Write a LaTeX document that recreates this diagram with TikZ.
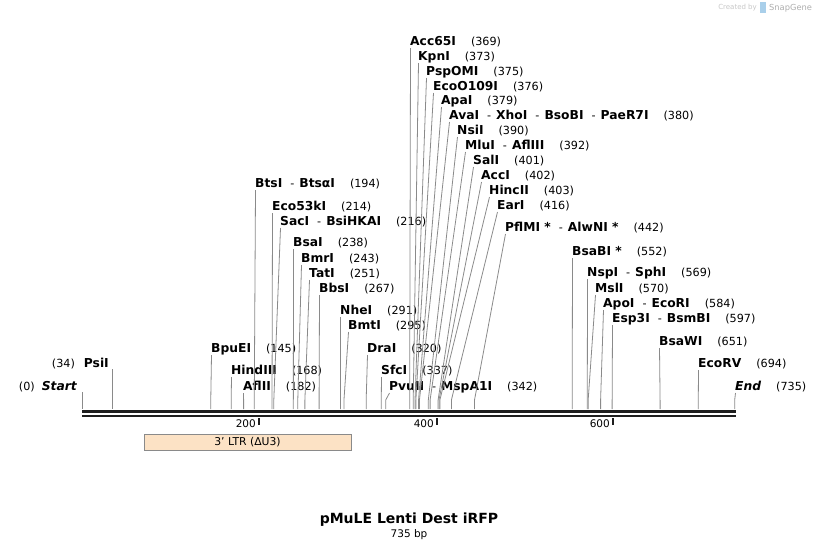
\documentclass[tikz,border=0pt]{standalone}
\usepackage{fontspec}
\setmainfont{DejaVu Sans}
\usetikzlibrary{calc}
\definecolor{leadgray}{HTML}{8A8A8A}
\definecolor{ltrfill}{HTML}{FCE2C5}
\definecolor{bardark}{HTML}{1E1E1E}
\definecolor{logoblue}{HTML}{A9CFEA}
\def\bpx#1{82+0.888*#1}
\def\enz#1{{\fontsize{12.3}{14}\selectfont\bfseries #1}}
\def\bpat#1{\hspace{15pt}(#1)}
\def\orsep{\hspace{8pt}-\hspace{5pt}}
% label to the right of its leader line
\def\cutsite(#1)(#2,#3)(#4)#5{%
	\node[site label] (#1) at (#2,#3) {#5};
	\coordinate (#1 knee) at ({\bpx{#4}},400);
	\coordinate (#1 cut) at ({\bpx{#4}},409);
	\draw[leader] ([xshift=0.5pt,yshift=-6pt]#1.west) -- (#1 knee) -- (#1 cut);}
% label to the left of its leader line
\def\leftsite(#1)(#2,#3)(#4)#5{%
	\node[left label] (#1) at (#2,#3) {#5};
	\coordinate (#1 top) at ({\bpx{#4}},{#3+5});
	\coordinate (#1 cut) at ({\bpx{#4}},409);
	\draw[leader] (#1 top) -- (#1 cut);}
\tikzset{
	site label/.style={anchor=west, inner sep=0pt, font=\fontsize{11.2}{13}\selectfont},
	left label/.style={site label, anchor=east},
	leader/.style={draw=leadgray, line width=0.8pt},
	tick label/.style={anchor=east, inner sep=0pt, font=\fontsize{10.5}{12}\selectfont},
}
\begin{document}
\begin{tikzpicture}[x=1pt,y=-1pt]
		%%%%% START %%%%%
		\useasboundingbox (0,0) rectangle (818,550);
		
		% sequence bar
		\draw[bardark, line width=3pt] (82,411) -- (735.5,411);
		\draw[bardark, line width=2.6pt] (82,416) -- (735.5,416);
		\foreach \t/\tx in {200/259,400/437,600/613}{
			\draw[bardark, line width=1.6pt] (\tx,418) -- (\tx,425);
			\node[tick label] (tick\t) at ({\tx-3},424) {\t};
		}
		
		% 3' LTR feature
		\node[draw=leadgray, fill=ltrfill, line width=0.6pt, minimum width=207pt, minimum height=16pt,
			inner sep=0pt, font=\fontsize{10.8}{12}\selectfont] (ltr) at (247.5,442) {3' LTR (ΔU3)};
		
		% ends
		\leftsite(start)(77,387)(0){(0)\hspace{7pt}\enz{\itshape Start}}
		\leftsite(psii)(109,364)(34){(34)\hspace{9pt}\enz{PsiI}}
		\cutsite(endsite)(735,387)(735){\enz{\itshape End}\bpat{735}}
		
		% left cluster
		\cutsite(bpuei)(211,349)(145){\enz{BpuEI}\bpat{145}}
		\cutsite(hindiii)(231,371)(168){\enz{HindIII}\bpat{168}}
		\cutsite(aflii)(243,387)(182){\enz{AflII}\bpat{182}}
		\cutsite(btsi)(255,184)(194){\enz{BtsI}\orsep\enz{BtsαI}\bpat{194}}
		\cutsite(eco53ki)(272,207)(214){\enz{Eco53kI}\bpat{214}}
		\cutsite(saci)(280,222)(216){\enz{SacI}\orsep\enz{BsiHKAI}\bpat{216}}
		\cutsite(bsai)(293,243)(238){\enz{BsaI}\bpat{238}}
		\cutsite(bmri)(301,259)(243){\enz{BmrI}\bpat{243}}
		\cutsite(tati)(309,274)(251){\enz{TatI}\bpat{251}}
		\cutsite(bbsi)(319,289)(267){\enz{BbsI}\bpat{267}}
		\cutsite(nhei)(340,311)(291){\enz{NheI}\bpat{291}}
		\cutsite(bmti)(348,326)(295){\enz{BmtI}\bpat{295}}
		\cutsite(drai)(367,349)(320){\enz{DraI}\bpat{320}}
		\cutsite(sfci)(381,371)(337){\enz{SfcI}\bpat{337}}
		\cutsite(pvuii)(389,387)(342){\enz{PvuII}\orsep\enz{MspA1I}\bpat{342}}
		
		% multiple cloning region
		\cutsite(acc65i)(410,42)(369){\enz{Acc65I}\bpat{369}}
		\cutsite(kpni)(418,57)(373){\enz{KpnI}\bpat{373}}
		\cutsite(pspomi)(426,72)(375){\enz{PspOMI}\bpat{375}}
		\cutsite(ecoo109i)(433,87)(376){\enz{EcoO109I}\bpat{376}}
		\cutsite(apai)(441,101)(379){\enz{ApaI}\bpat{379}}
		\cutsite(avai)(449,116)(380){\enz{AvaI}\orsep\enz{XhoI}\orsep\enz{BsoBI}\orsep\enz{PaeR7I}\bpat{380}}
		\cutsite(nsii)(457,131)(390){\enz{NsiI}\bpat{390}}
		\cutsite(mlui)(465,146)(392){\enz{MluI}\orsep\enz{AflIII}\bpat{392}}
		\cutsite(sali)(473,161)(401){\enz{SalI}\bpat{401}}
		\cutsite(acci)(481,176)(402){\enz{AccI}\bpat{402}}
		\cutsite(hincii)(489,191)(403){\enz{HincII}\bpat{403}}
		\cutsite(eari)(497,206)(416){\enz{EarI}\bpat{416}}
		\cutsite(pflmi)(505,228)(442){\enz{PflMI *}\orsep\enz{AlwNI *}\bpat{442}}
		
		% right cluster
		\cutsite(bsabi)(572,252)(552){\enz{BsaBI *}\bpat{552}}
		\cutsite(nspi)(587,273)(569){\enz{NspI}\orsep\enz{SphI}\bpat{569}}
		\cutsite(msli)(595,289)(570){\enz{MslI}\bpat{570}}
		\cutsite(apoi)(603,304)(584){\enz{ApoI}\orsep\enz{EcoRI}\bpat{584}}
		\cutsite(esp3i)(612,319)(597){\enz{Esp3I}\orsep\enz{BsmBI}\bpat{597}}
		\cutsite(bsawi)(659,342)(651){\enz{BsaWI}\bpat{651}}
		\cutsite(ecorv)(698,364)(694){\enz{EcoRV}\bpat{694}}
		
		% title
		\node[font=\bfseries\fontsize{14}{16}\selectfont, inner sep=0pt] (title) at (409,520) {pMuLE Lenti Dest iRFP};
		\node[font=\fontsize{10.5}{12}\selectfont, inner sep=0pt] (length) at (409,535) {735 bp};
		
		% logo
		\node[anchor=east, inner sep=0pt, text=black!22, font=\fontsize{7}{8}\selectfont] (createdby) at (757,8) {Created by};
		\fill[logoblue] (760,2) rectangle (766,13);
		\node[anchor=west, inner sep=0pt, text=black!32, font=\fontsize{8.3}{10}\selectfont] (snapgene) at (769,8) {SnapGene};
		
		%%%%% END %%%%%
	\end{tikzpicture}
\end{document}
